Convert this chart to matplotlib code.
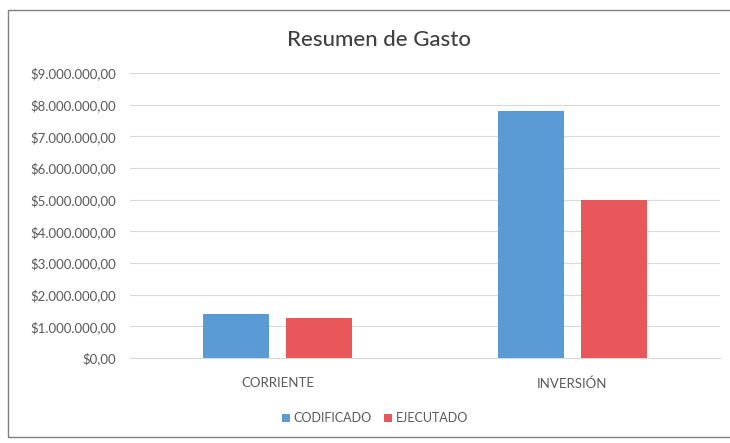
import matplotlib
matplotlib.use("Agg")
import matplotlib.pyplot as plt
from matplotlib.patches import Rectangle
import numpy as np

categories = ["CORRIENTE", "INVERSIÓN"]
codificado = [1380000, 7800000]
ejecutado = [1260000, 4980000]
series_names = ["CODIFICADO", "EJECUTADO"]
yticks = [0, 1e6, 2e6, 3e6, 4e6, 5e6, 6e6, 7e6, 8e6, 9e6]

plt.rcParams['font.family'] = ['Lato', 'DejaVu Sans']
txt = '#595959'

fig = plt.figure(figsize=(7.3, 4.43), dpi=100)
fig.patch.set_facecolor('white')
fig.patches.append(Rectangle((8/730, 1-437/443), 1.0, (437-10)/443,
                             transform=fig.transFigure, fill=False,
                             edgecolor='#7f7f7f', linewidth=1.0))

ax = fig.add_axes([130/730, 1-358/443, 590/730, (358-73)/443])
x = np.arange(len(categories))
w = 0.225
off = 0.14
ax.bar(x - off, codificado, w, color='#5B9BD5', label=series_names[0], zorder=3)
ax.bar(x + off, ejecutado, w, color='#E8575A', label=series_names[1], zorder=3)

ax.set_xlim(-0.5, 1.5)
ax.set_ylim(0, 9e6)
ax.set_yticks(yticks)
ax.set_yticklabels(["$" + f"{v:,.2f}".replace(",", "X").replace(".", ",").replace("X", ".") for v in yticks])
ax.set_xticks(x)
ax.set_xticklabels(categories)
ax.tick_params(axis='both', length=0, colors=txt, labelsize=9.5)
ax.tick_params(axis='x', pad=14)
ax.tick_params(axis='y', pad=10)
ax.grid(axis='y', color='#D9D9D9', linewidth=0.8, zorder=0)
for s in ['top', 'right', 'left']:
    ax.spines[s].set_visible(False)
ax.spines['bottom'].set_color('#D9D9D9')

fig.text(379/730, 1-40/443, "Resumen de Gasto", ha='center', va='center',
         fontsize=16, color='#404040', fontweight='medium')

leg = fig.legend(loc='center', bbox_to_anchor=(375/730, 1-418/443), ncol=2,
                 frameon=False, fontsize=9, handlelength=0.6, handleheight=0.6,
                 handletextpad=0.3, columnspacing=1.0)
for t in leg.get_texts():
    t.set_color(txt)

fig.savefig("out.png", dpi=100, facecolor='white')
